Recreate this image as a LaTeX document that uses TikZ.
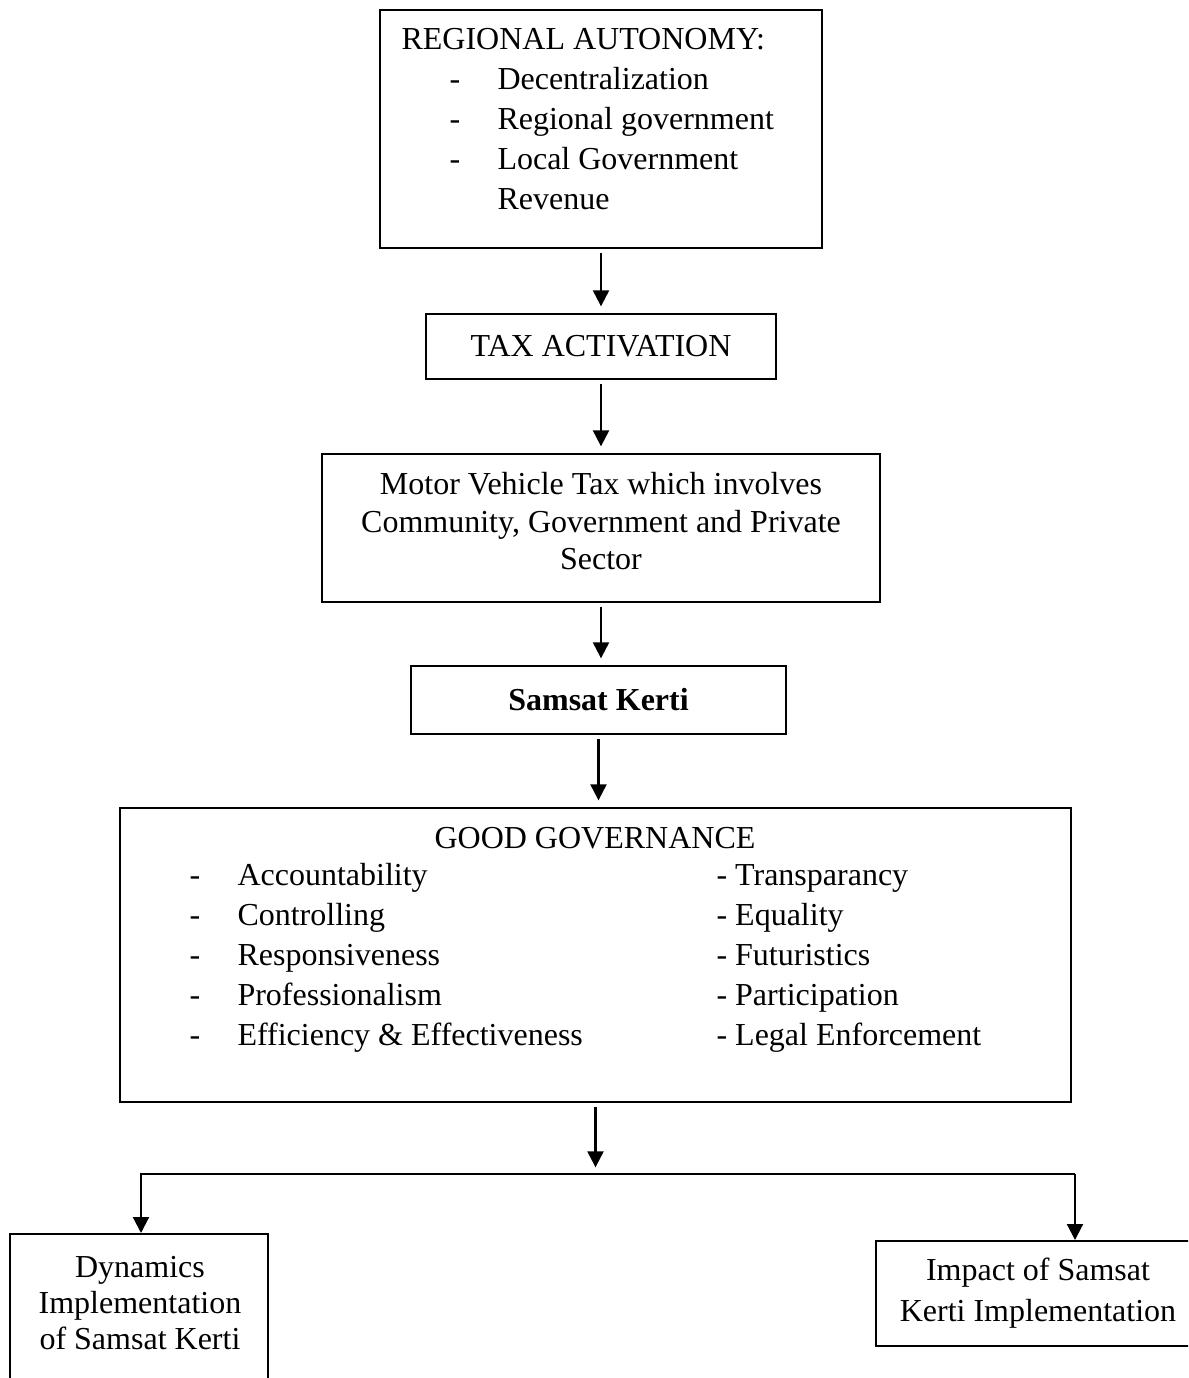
\documentclass[tikz,border=0pt]{standalone}
\usepackage{fontspec}
\setmainfont{Liberation Serif}
\usepackage{tikz}
\usetikzlibrary{arrows.meta, calc}
\newcommand{\dashitem}[1]{\makebox[18pt][l]{-}#1}

\begin{document}
\begin{tikzpicture}[
  x=0.375pt, y=-0.375pt,
  box/.style={draw, line width=0.75pt, inner sep=0pt, align=center,
              font=\fontsize{12pt}{14pt}\selectfont},
  txt/.style={inner sep=0pt, font=\fontsize{12pt}{15pt}\selectfont},
  arr/.style={-{Triangle[length=6pt, width=6pt]}, line width=0.8pt},
  gap/.style={shorten <=1.5pt, shorten >=2.5pt}
]
\clip (0,0) rectangle (1188,1378);
\fill[white] (0,0) rectangle (1188,1378);

\node[box, minimum width=165.75pt, minimum height=89.25pt] (ra) at (601,129) {};
\node[txt, anchor=north west, align=left] (ratext) at (401,28)
  {REGIONAL AUTONOMY:\\
   \hspace*{18pt}\dashitem{Decentralization}\\
   \hspace*{18pt}\dashitem{Regional government}\\
   \hspace*{18pt}\dashitem{Local Government}\\
   \hspace*{36pt}Revenue};
\node[box, minimum width=131.25pt, minimum height=24.375pt] (tax) at (601,346.5) {TAX ACTIVATION};
\node[box, minimum width=209.25pt, minimum height=55.5pt] (motor) at (601,528)
  {Motor Vehicle Tax which involves\\Community, Government and Private\\Sector\rule[-5.25pt]{0pt}{0pt}};
\node[box, minimum width=140.625pt, minimum height=25.5pt, font=\fontsize{12pt}{14pt}\selectfont\bfseries] (samsat) at (598.5,700) {Samsat Kerti};

\node[box, minimum width=356.625pt, minimum height=110.25pt] (gg) at (595.5,955) {};
\node[txt, anchor=base] (ggtitle) at (595,848) {GOOD GOVERNANCE};
\node[txt, anchor=north west, align=left] (ggleft) at (189,863)
  {\dashitem{Accountability}\\
   \dashitem{Controlling}\\
   \dashitem{Responsiveness}\\
   \dashitem{Professionalism}\\
   \dashitem{Efficiency \& Effectiveness}};
\node[txt, anchor=north west, align=left] (ggright) at (716,864)
  {- Transparancy\\- Equality\\- Futuristics\\- Participation\\- Legal Enforcement};

\node[box, minimum width=96.75pt, minimum height=84.75pt] (dyn) at (139,1347) {};
\node[txt, anchor=north, align=center, font=\fontsize{12pt}{13.5pt}\selectfont] (dyntext) at (140,1256)
  {Dynamics\\Implementation\\of Samsat Kerti};
\node[box, minimum width=121.5pt, minimum height=39.375pt, font=\fontsize{12pt}{15.4pt}\selectfont] (impact) at (1038,1293.5)
  {Impact of Samsat\\Kerti Implementation};

\coordinate (ldrop) at (141,1174);
\coordinate (rdrop) at (1075,1174);

\draw[arr, gap] (ra.south) -- (ra.south |- tax.north);
\draw[arr, gap] (tax.south) -- (tax.south |- motor.north);
\draw[arr, gap] (motor.south) -- (motor.south |- samsat.north);
\draw[arr, gap] (samsat.south) -- (samsat.south |- gg.north);
\draw[arr, gap] (gg.south) -- (gg.south |- ldrop);
\draw[arr] (rdrop) -- (ldrop) -- (ldrop |- dyn.north);
\draw[arr] (rdrop) -- (rdrop |- impact.north);
\end{tikzpicture}
\end{document}
